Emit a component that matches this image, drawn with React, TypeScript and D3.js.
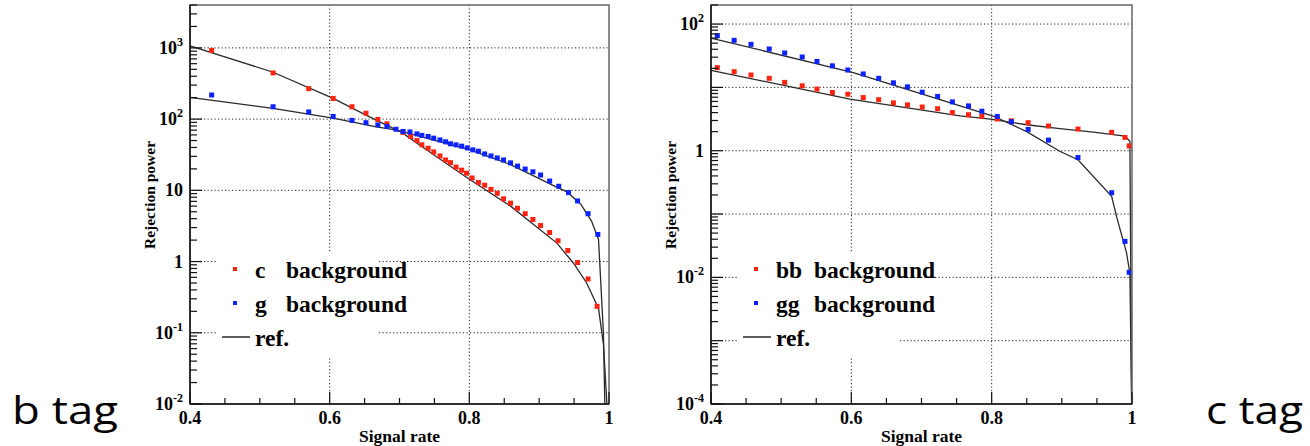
import React from 'react'
import * as d3 from 'd3'

// ---- b tag panel (left) ----
const bSignalC = [0.431, 0.519, 0.570, 0.605, 0.632, 0.652, 0.669, 0.682, 0.705, 0.716, 0.725, 0.732, 0.741, 0.749, 0.758, 0.766, 0.773, 0.781, 0.789, 0.796, 0.804, 0.813, 0.822, 0.831, 0.840, 0.849, 0.859, 0.869, 0.880, 0.891, 0.902, 0.915, 0.927, 0.941, 0.955, 0.970, 0.983]
const bRejC = [920, 445, 268, 195, 149, 121, 99, 86, 65, 57, 50, 43.6, 39, 34.6, 30.4, 26.7, 24.5, 21.2, 19.2, 17.4, 14.9, 12.9, 11.8, 10.3, 9.1, 7.6, 6.6, 5.6, 4.7, 3.9, 3.2, 2.56, 1.96, 1.43, 0.97, 0.57, 0.235]
const bSignalG = [0.431, 0.519, 0.570, 0.605, 0.632, 0.652, 0.669, 0.682, 0.695, 0.705, 0.715, 0.725, 0.732, 0.741, 0.749, 0.758, 0.766, 0.773, 0.781, 0.789, 0.797, 0.805, 0.813, 0.822, 0.831, 0.840, 0.849, 0.859, 0.869, 0.880, 0.891, 0.902, 0.915, 0.928, 0.942, 0.955, 0.970, 0.984]
const bRejG = [218, 149, 126, 109, 96, 89, 83, 79, 72, 67, 66, 62, 59, 57, 54, 51, 48, 45, 43.5, 41.7, 39.4, 37, 35.4, 32.4, 30.4, 28.5, 26.7, 24.3, 21.9, 19.9, 18.2, 16.4, 13.5, 11.4, 9.3, 7.1, 4.7, 2.4]
const bRefSignalC = [0.4, 0.519, 0.605, 0.652, 0.703, 0.75, 0.8, 0.859, 0.925, 0.949, 0.968, 0.985, 0.992, 0.997]
const bRefRejC = [1070, 455, 195, 114, 65, 31, 14.3, 6.0, 1.83, 0.955, 0.5, 0.22, 0.07, 0.01]
const bRefSignalG = [0.4, 0.519, 0.605, 0.667, 0.696, 0.801, 0.859, 0.925, 0.94, 0.96, 0.975, 0.985, 0.987, 0.992, 0.994]
const bRefRejG = [202, 141, 103, 78, 70, 37, 23, 11.1, 9.5, 6.3, 3.7, 2.04, 0.86, 0.1, 0.01]
const bTickValues = [1e3, 1e2, 10, 1, 0.1, 0.01]
const bTickLabels = ['10^3', '10^2', '10', '1', '10^-1', '10^-2']
const bGridValues = [1e3, 1e2, 10, 1, 0.1]
const bLegendNames = ['c', 'g']

// ---- c tag panel (right) ----
const cSignal = [0.409, 0.433, 0.457, 0.483, 0.505, 0.530, 0.551, 0.573, 0.595, 0.617, 0.639, 0.660, 0.680, 0.701, 0.723, 0.744, 0.767, 0.786, 0.808, 0.828, 0.852, 0.881, 0.923, 0.971, 0.990, 0.996]
const cRejBB = [20.5, 17.7, 15.7, 13.9, 12.0, 10.6, 9.4, 8.3, 7.8, 6.9, 6.4, 5.7, 5.3, 4.9, 4.6, 4.0, 3.7, 3.5, 3.17, 2.97, 2.77, 2.45, 2.2, 1.95, 1.62, 1.19]
const cRejGG = [65.6, 55.3, 47.8, 40.4, 34.9, 30.2, 25.7, 21.9, 18.8, 16.3, 13.9, 11.8, 10.2, 8.4, 7.2, 5.9, 5.1, 4.2, 3.48, 2.87, 2.17, 1.47, 0.78, 0.217, 0.037, 0.012]
const cRefSignalBB = [0.4, 0.598, 0.755, 0.798, 0.85, 0.897, 0.945, 0.99, 0.997, 0.9995]
const cRefRejBB = [18.6, 6.5, 3.55, 3.16, 2.57, 2.24, 1.97, 1.7, 1.41, 0.0001]
const cRefSignalGG = [0.4, 0.604, 0.755, 0.803, 0.85, 0.897, 0.923, 0.971, 0.978, 0.992, 0.997, 0.9995]
const cRefRejGG = [60, 17, 5.1, 3.5, 2.0, 0.98, 0.72, 0.19, 0.091, 0.025, 0.0117, 0.0001]
const cTickValues = [1e2, 1, 1e-2, 1e-4]
const cTickLabels = ['10^2', '1', '10^-2', '10^-4']
const cGridValues = [1e2, 10, 1, 0.1, 0.01, 0.001]
const cLegendNames = ['bb', 'gg']

const xTickValues = [0.4, 0.6, 0.8, 1]
const xTickLabels = ['0.4', '0.6', '0.8', '1']

const RED = '#ff2412'
const BLUE = '#0c22ff'
const SERIF = "'Liberation Serif', 'Times New Roman', serif"
const SANS = "'Open Sans', 'Noto Sans', sans-serif"

const TickLabel = ({ label, x, y }) => {
    const [base, exp] = label.split('^')
    return (
        <text x={x} y={y} textAnchor='end' fontFamily={SERIF} fontWeight='bold' fontSize={18}>
            {base}
            {exp !== undefined && <tspan fontSize={12} dy={-8}>{exp}</tspan>}
        </text>
    )
}

const Panel = ({ left, top, width, height, yDomain, tickValues, tickLabels, gridValues, points, refs, names, bgX }) => {
    const x = d3.scaleLinear().domain([0.4, 1]).range([0, width])
    const y = d3.scaleLog().domain(yDomain).range([height, 0])
    const line = d3.line().x(d => x(d[0])).y(d => y(d[1]))

    const yTicks = y.ticks(30).filter(v => v >= yDomain[0] && v <= yDomain[1])
    const xTicks = x.ticks(12)
    const isDecade = v => Math.abs(Math.log10(v) - Math.round(Math.log10(v))) < 1e-6
    const isMajorX = v => Math.abs(v * 5 - Math.round(v * 5)) < 1e-6

    return (
        <g transform={`translate(${left}, ${top})`}>
            <rect width={width} height={height} fill='white' />
            {/* grid */}
            {gridValues.map(v => (
                <line key={'gy' + v} x1={0} x2={width} y1={y(v)} y2={y(v)}
                    stroke='#222' strokeWidth={1} strokeDasharray='1.2,2.3' />
            ))}
            {[0.6, 0.8].map(v => (
                <line key={'gx' + v} x1={x(v)} x2={x(v)} y1={0} y2={height}
                    stroke='#222' strokeWidth={1} strokeDasharray='1.2,2.3' />
            ))}
            {/* legend box hides grid */}
            <rect x={26} y={248} width={161} height={104} fill='white' />
            {/* ref lines */}
            {refs.map((r, i) => (
                <path key={'r' + i} d={line(r.signal.map((s, j) => [s, r.rej[j]]))}
                    fill='none' stroke='#2a2a2a' strokeWidth={1.3} />
            ))}
            {/* markers */}
            {points.map((p, i) => (
                <g key={'p' + i}>
                    {p.signal.map((s, j) => (
                        <rect key={j} x={x(s) - 2.5} y={y(p.rej[j]) - 2.5} width={5} height={5} fill={p.color} />
                    ))}
                </g>
            ))}
            {/* frame */}
            <rect width={width} height={height} fill='none' stroke='#666' strokeWidth={1.5} />
            <line x1={0} x2={0} y1={0} y2={height} stroke='#111' strokeWidth={1.5} />
            <line x1={0} x2={width} y1={height} y2={height} stroke='#111' strokeWidth={1.5} />
            {/* y ticks */}
            {yTicks.map(v => (
                <line key={'ty' + v} x1={0} x2={isDecade(v) ? 12 : 7} y1={y(v)} y2={y(v)} stroke='#111' strokeWidth={1.2} />
            ))}
            {tickValues.map((v, i) => (
                <TickLabel key={'ly' + v} label={tickLabels[i]} x={-7} y={y(v) + 6} />
            ))}
            {/* x ticks */}
            {xTicks.map(v => (
                <line key={'tx' + v} x1={x(v)} x2={x(v)} y1={height} y2={height - (isMajorX(v) ? 12 : 6)} stroke='#111' strokeWidth={1.2} />
            ))}
            {xTickValues.map((v, i) => (
                <text key={'lx' + v} x={x(v)} y={height + 20} textAnchor='middle'
                    fontFamily={SERIF} fontWeight='bold' fontSize={18}>{xTickLabels[i]}</text>
            ))}
            {/* axis titles */}
            <text x={width / 2} y={height + 38} textAnchor='middle' fontFamily={SERIF} fontWeight='bold' fontSize={17.5}>Signal rate</text>
            <text transform={`translate(-35, 190) rotate(-90)`} textAnchor='middle' fontFamily={SERIF} fontWeight='bold' fontSize={15.5}>Rejection power</text>
            {/* legend */}
            {names.map((n, i) => (
                <g key={'lg' + n}>
                    <rect x={43} y={264 + i * 34 - 2} width={4} height={4} fill={i === 0 ? RED : BLUE} />
                    <text y={273 + i * 34} fontFamily={SERIF} fontWeight='bold' fontSize={23.5}>
                        <tspan x={65}>{n}</tspan>
                        <tspan x={bgX}>background</tspan>
                    </text>
                </g>
            ))}
            <line x1={32} x2={60} y1={332} y2={332} stroke='#2a2a2a' strokeWidth={1.5} />
            <text x={65} y={341} fontFamily={SERIF} fontWeight='bold' fontSize={23.5}>ref.</text>
        </g>
    )
}

const App = () => {
    return (
        <svg width={1310} height={446} style={{ position: 'absolute', left: 0, top: 0 }}>
            <rect width={1310} height={446} fill='white' />
            <Panel
                left={190} top={5} width={419} height={399}
                yDomain={[0.01, 4000]}
                tickValues={bTickValues} tickLabels={bTickLabels} gridValues={bGridValues}
                points={[
                    { signal: bSignalC, rej: bRejC, color: RED },
                    { signal: bSignalG, rej: bRejG, color: BLUE },
                ]}
                refs={[
                    { signal: bRefSignalC, rej: bRefRejC },
                    { signal: bRefSignalG, rej: bRefRejG },
                ]}
                names={bLegendNames} bgX={96}
            />
            <Panel
                left={711} top={5} width={421} height={399}
                yDomain={[0.0001, 200]}
                tickValues={cTickValues} tickLabels={cTickLabels} gridValues={cGridValues}
                points={[
                    { signal: cSignal, rej: cRejBB, color: RED },
                    { signal: cSignal, rej: cRejGG, color: BLUE },
                ]}
                refs={[
                    { signal: cRefSignalBB, rej: cRefRejBB },
                    { signal: cRefSignalGG, rej: cRefRejGG },
                ]}
                names={cLegendNames} bgX={103}
            />
            <text x={12} y={424} fontFamily={SANS} fontSize={38} textLength={106} lengthAdjust='spacingAndGlyphs'>b tag</text>
            <text x={1206} y={424} fontFamily={SANS} fontSize={38} textLength={97} lengthAdjust='spacingAndGlyphs'>c tag</text>
        </svg>
    )
}

export default App
